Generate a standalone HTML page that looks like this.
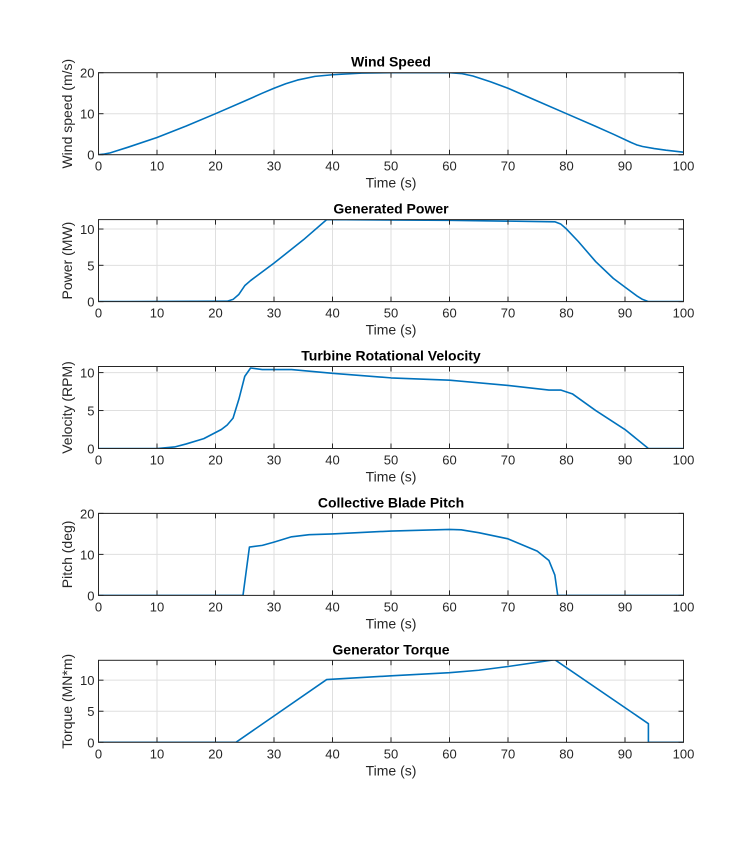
<!DOCTYPE html><html><head><style>body{margin:0;background:#fff}svg{font-family:"Liberation Sans",sans-serif}</style></head><body>
<svg id="s" width="756" height="850" xmlns="http://www.w3.org/2000/svg"></svg>
<script>
const P=[
{t:"Wind Speed",yl:"Wind speed (m/s)",ym:20,yt:[0,10,20],d:[[0,0],[1,0.15],[2,0.45],[3,0.9],[5,1.8],[10,4.2],[15,7],[20,10],[25,13.1],[28,15],[30,16.2],[32,17.3],[34,18.2],[37,19.1],[40,19.5],[45,19.9],[50,20],[60,20],[62,19.8],[64,19.2],[67,17.8],[70,16.2],[75,13.1],[80,10],[85,6.9],[88,5],[91,3],[92,2.4],[93,2],[95,1.5],[97,1.1],[100,0.6]]},
{t:"Generated Power",yl:"Power (MW)",ym:11.3,yt:[0,5,10],d:[[0,0],[22,0.05],[23,0.3],[24,1],[25,2.2],[26,2.9],[30,5.3],[35,8.5],[39,11.3],[60,11.2],[78,11.0],[79,10.7],[80,10],[82,8.3],[85,5.5],[88,3.2],[90,2],[92,0.8],[93,0.3],[94,0],[100,0]]},
{t:"Turbine Rotational Velocity",yl:"Velocity (RPM)",ym:10.8,yt:[0,5,10],d:[[0,0],[10,0],[13,0.2],[15,0.6],[18,1.3],[21,2.5],[22,3.1],[23,4],[24,6.5],[25,9.5],[26,10.6],[28,10.4],[33,10.4],[40,9.9],[50,9.3],[60,9.0],[70,8.3],[77,7.7],[79,7.7],[81,7.2],[85,5],[90,2.5],[94,0],[100,0]]},
{t:"Collective Blade Pitch",yl:"Pitch (deg)",ym:20,yt:[0,10,20],d:[[0,0],[24.7,0],[25.8,11.8],[28,12.2],[30,13],[33,14.3],[36,14.8],[40,15],[50,15.7],[60,16.1],[62,16],[65,15.3],[70,13.8],[75,10.8],[77,8.5],[78,5],[78.5,0],[100,0]]},
{t:"Generator Torque",yl:"Torque (MN*m)",ym:13.2,yt:[0,5,10],d:[[0,0],[23.5,0],[39,10.1],[50,10.7],[60,11.2],[65,11.6],[70,12.2],[78,13.3],[94,3],[94,0],[100,0]]}];
let h="";const x0=98.5,x1=683.5,H=82;
P.forEach((p,i)=>{const y0=72.7+146.9*i,yb=y0+H;const X=v=>x0+(x1-x0)*v/100,Y=v=>yb-H*v/p.ym;
h+=`<g stroke="#dfdfdf" stroke-width="1">`;for(let k=0;k<=100;k+=10)h+=`<line x1="${X(k)}" x2="${X(k)}" y1="${y0}" y2="${yb}"/>`;p.yt.forEach(v=>h+=`<line x1="${x0}" x2="${x1}" y1="${Y(v)}" y2="${Y(v)}"/>`);h+=`</g>`;
h+=`<svg x="${x0}" y="${y0}" width="${x1-x0}" height="${H}" overflow="hidden"><polyline fill="none" stroke="#0072bd" stroke-width="1.6" stroke-linejoin="round" points="${p.d.map(q=>(X(q[0])-x0)+","+(Y(q[1])-y0)).join(" ")}"/></svg>`;
h+=`<rect x="${x0}" y="${y0}" width="${x1-x0}" height="${H}" fill="none" stroke="#262626" stroke-width="1"/>`;
for(let k=0;k<=100;k+=10){h+=`<line x1="${X(k)}" x2="${X(k)}" y1="${yb}" y2="${yb-5}" stroke="#262626"/><line x1="${X(k)}" x2="${X(k)}" y1="${y0}" y2="${y0+5}" stroke="#262626"/><text x="${X(k)}" y="${yb+16}" font-size="13" fill="#262626" text-anchor="middle">${k}</text>`;}
p.yt.forEach(v=>{h+=`<line x1="${x0}" x2="${x0+5}" y1="${Y(v)}" y2="${Y(v)}" stroke="#262626"/><line x1="${x1}" x2="${x1-5}" y1="${Y(v)}" y2="${Y(v)}" stroke="#262626"/><text x="${x0-4}" y="${Y(v)+5}" font-size="13" fill="#262626" text-anchor="end">${v}</text>`;});
h+=`<text x="391" y="${y0-6}" font-size="14" font-weight="bold" text-anchor="middle" fill="#000">${p.t}</text>`;
h+=`<text x="391" y="${yb+33}" font-size="14" text-anchor="middle" fill="#262626">Time (s)</text>`;
h+=`<text transform="translate(72,${y0+H/2}) rotate(-90)" font-size="14" text-anchor="middle" fill="#262626">${p.yl}</text>`;});
document.getElementById("s").innerHTML=h;
</script></body></html>
